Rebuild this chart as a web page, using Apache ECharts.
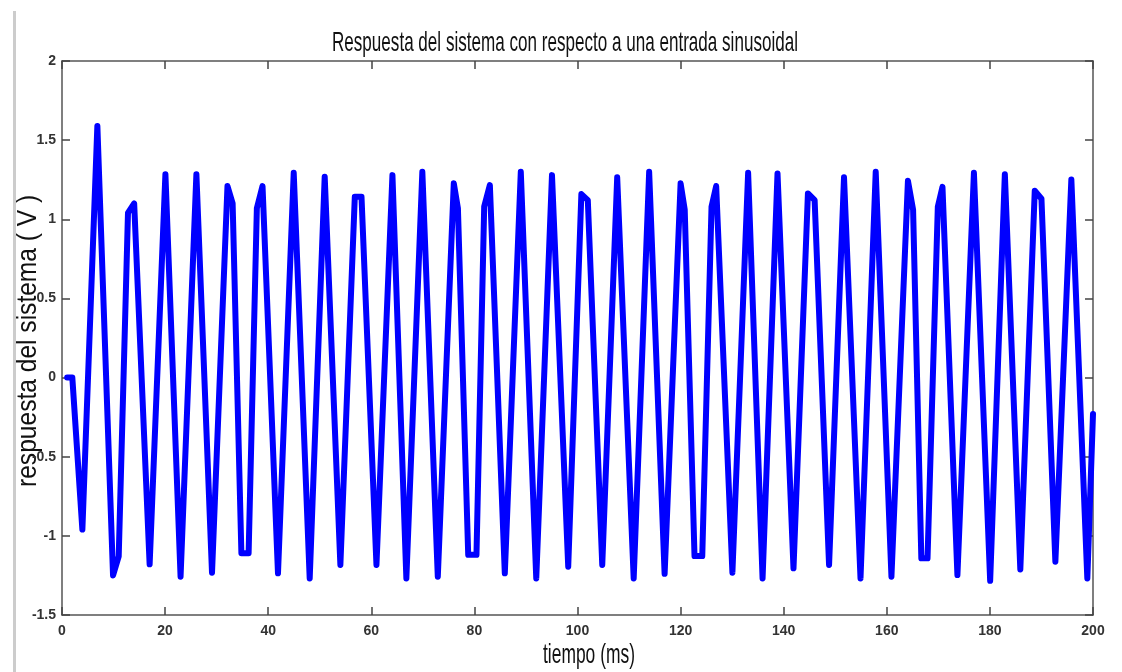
<!DOCTYPE html>
<html><head><meta charset="utf-8">
<script src="https://cdn.jsdelivr.net/npm/echarts@6/dist/echarts.min.js"></script>
<style>html,body{margin:0;padding:0;background:#fff}#c{width:1122px;height:672px}</style>
</head><body><div id="c"></div>
<script>
const titleText = 'Respuesta del sistema con respecto a una entrada sinusoidal';
const xName = 'tiempo (ms)';
const yName = 'respuesta del sistema ( V )';
const xTicks = [0, 20, 40, 60, 80, 100, 120, 140, 160, 180, 200];
const xTickLabels = ['0', '20', '40', '60', '80', '100', '120', '140', '160', '180', '200'];
const yTicks = [-1.5, -1, -0.5, 0, 0.5, 1, 1.5, 2];
const yTickLabels = ['-1.5', '-1', '-0.5', '0', '0.5', '1', '1.5', '2'];

const timeMs = [1.0, 2.0, 3.95, 6.86, 9.9, 11.0, 12.8, 14.0, 17.0, 20.06, 23.0, 26.07, 29.1, 32.1, 33.1, 34.8, 36.2, 37.8, 38.9, 41.9,
  44.95, 48.05, 50.96, 54.0, 56.8, 58.1, 61.0, 64.1, 66.8, 69.9, 72.9, 76.0, 76.8, 78.8, 80.4, 81.9, 83.0, 85.9, 89.0, 92.0,
  95.05, 98.2, 100.75, 102.0, 104.8, 107.7, 110.9, 113.9, 116.9, 120.0, 120.8, 122.7, 124.2, 126.0, 126.9, 130.05, 133.1, 135.9, 138.8, 141.9,
  144.7, 146.0, 148.8, 151.7, 154.9, 157.85, 160.9, 164.1, 165.1, 166.7, 167.9, 169.9, 170.8, 173.7, 176.9, 180.05, 182.9, 185.9, 188.7, 190.0,
  192.7, 195.8, 198.9, 200];
const response = [0, 0, -0.96, 1.59, -1.25, -1.13, 1.04, 1.10, -1.18, 1.285, -1.258, 1.285, -1.233, 1.21, 1.10, -1.11, -1.11, 1.07, 1.21, -1.237,
  1.294, -1.269, 1.269, -1.184, 1.142, 1.142, -1.184, 1.279, -1.269, 1.30, -1.258, 1.227, 1.07, -1.12, -1.12, 1.08, 1.216, -1.237, 1.30, -1.269,
  1.279, -1.195, 1.159, 1.121, -1.184, 1.265, -1.269, 1.30, -1.24, 1.227, 1.06, -1.128, -1.128, 1.08, 1.21, -1.233, 1.294, -1.269, 1.29, -1.205,
  1.163, 1.121, -1.184, 1.265, -1.269, 1.30, -1.258, 1.243, 1.06, -1.142, -1.142, 1.08, 1.205, -1.248, 1.294, -1.284, 1.285, -1.212, 1.18, 1.13,
  -1.163, 1.252, -1.269, -0.23];

function textWidth(text, font) {
  const ctx = document.createElement('canvas').getContext('2d');
  ctx.font = font;
  return ctx.measureText(text).width;
}
const bigFont = '28px "Liberation Sans", Arial, sans-serif';
const titleScale = 466 / textWidth(titleText, bigFont);
const xNameScale = 92 / textWidth(xName, bigFont);
const yNameScale = 239 / textWidth('respuesta del sistema', bigFont);

const chart = echarts.init(document.getElementById('c'), null, {renderer: 'canvas'});
const axisLineStyle = {color: '#555', width: 1.5};
const tickStyle = {inside: true, length: 8, lineStyle: {color: '#444', width: 1.5}};
const labelStyle = {color: '#333', fontWeight: 'bold', fontSize: 14, fontFamily: '"Liberation Sans", Arial, sans-serif'};

chart.setOption({
  animation: false,
  backgroundColor: '#fff',
  grid: {left: 62, right: 29, top: 61, bottom: 57, containLabel: false},
  xAxis: [
    {type: 'value', min: 0, max: 200, interval: 20, position: 'bottom',
     axisLine: {show: true, onZero: false, lineStyle: axisLineStyle},
     axisTick: tickStyle,
     axisLabel: Object.assign({margin: 9, formatter: v => { const i = xTicks.indexOf(v); return i >= 0 ? xTickLabels[i] : ''; }}, labelStyle),
     splitLine: {show: false}},
    {type: 'value', min: 0, max: 200, interval: 20, position: 'top',
     axisLine: {show: true, onZero: false, lineStyle: axisLineStyle},
     axisTick: tickStyle, axisLabel: {show: false}, splitLine: {show: false}}
  ],
  yAxis: [
    {type: 'value', min: -1.5, max: 2, interval: 0.5, position: 'left',
     axisLine: {show: true, onZero: false, lineStyle: axisLineStyle},
     axisTick: tickStyle,
     axisLabel: Object.assign({margin: 6, formatter: v => { const i = yTicks.indexOf(v); return i >= 0 ? yTickLabels[i] : ''; }}, labelStyle),
     splitLine: {show: false}},
    {type: 'value', min: -1.5, max: 2, interval: 0.5, position: 'right',
     axisLine: {show: true, onZero: false, lineStyle: axisLineStyle},
     axisTick: tickStyle, axisLabel: {show: false}, splitLine: {show: false}}
  ],
  series: [{
    type: 'line', xAxisIndex: 0, yAxisIndex: 0,
    data: timeMs.map((t, i) => [t, response[i]]),
    symbol: 'none', showSymbol: false, smooth: false,
    lineStyle: {color: '#0000ff', width: 6, join: 'round', cap: 'round'},
    z: 1
  }],
  graphic: [
    {type: 'rect', silent: true, shape: {x: 13, y: 11, width: 3, height: 661}, style: {fill: '#cccccc'}},
    {type: 'text', silent: true, x: 565, y: 43, scaleX: titleScale,
     style: {text: titleText, font: bigFont, fill: '#111', align: 'center', verticalAlign: 'middle'}},
    {type: 'text', silent: true, x: 589, y: 655, scaleX: xNameScale,
     style: {text: xName, font: bigFont, fill: '#111', align: 'center', verticalAlign: 'middle'}},
    {type: 'text', silent: true, x: 28.5, y: 487, rotation: Math.PI / 2, scaleX: yNameScale,
     style: {text: yName, font: bigFont, fill: '#111', align: 'left', verticalAlign: 'middle'}}
  ]
});
</script>
</body></html>
